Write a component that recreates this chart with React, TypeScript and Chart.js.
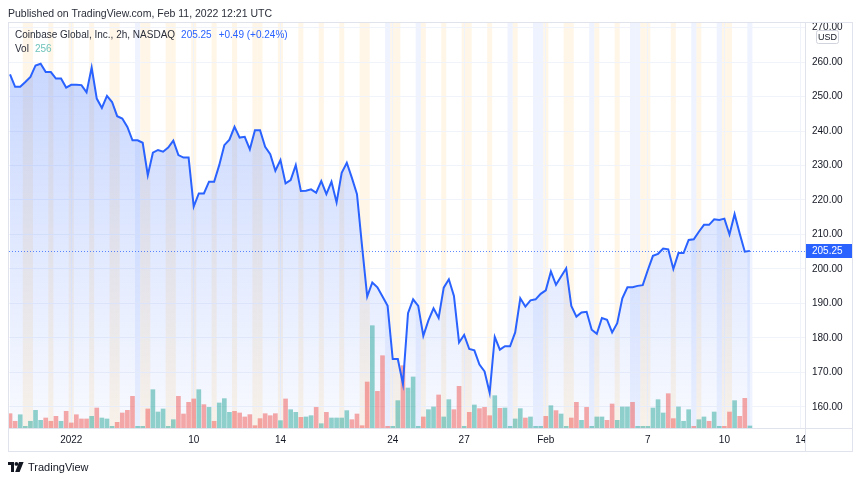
import React, { useEffect, useRef } from "react";
import { Chart, registerables } from "chart.js";

Chart.register(...registerables);

// ---- data ----
const closePrices: number[] = [
  256.4, 252.8, 252.8, 254.2, 255.7, 259.0, 259.5, 257.1, 257.1, 255.2, 255.2, 252.6, 253.4, 253.4, 253.3, 251.2, 258.4, 249.4, 246.7, 250.2, 248.4, 244.3, 243.6, 241.2,
  237.3, 237.3, 236.6, 227.2, 233.7, 234.5, 234.0, 235.2, 237.2, 233.0, 232.3, 232.3, 218.1, 221.9, 221.9, 225.3, 225.3, 230.1, 235.9, 237.5, 241.2, 238.1, 238.3, 234.7, 240.2,
  240.2, 235.4, 233.3, 228.5, 231.6, 224.8, 225.8, 230.1, 222.6, 222.7, 223.1, 222.1, 225.5, 221.7, 225.3, 219.3, 227.9, 230.8, 226.4, 221.7, 206.5, 192.0, 196.1, 194.7,
  192.0, 189.3, 173.9, 173.9, 166.7, 187.2, 191.2, 189.3, 180.6, 185.1, 188.6, 185.8, 194.6, 197.0, 192.2, 178.7, 180.9, 176.8, 176.4, 172.3, 170.3, 164.1, 180.3, 176.6, 177.6,
  177.6, 181.6, 191.5, 189.1, 190.9, 191.2, 192.8, 193.8, 199.3, 195.4, 197.8, 200.2, 189.3, 186.2, 187.4, 187.6, 182.4, 181.2, 185.8, 185.3, 181.6, 184.3, 191.5, 194.7,
  194.7, 195.1, 195.3, 199.7, 203.8, 204.4, 205.9, 205.7, 200.0, 204.6, 204.6, 208.4, 208.6, 210.8, 212.8, 212.8, 214.4, 214.2, 214.6, 210.0, 215.9, 210.3, 205.0, 205.25,
];

const volumesK: number[] = [
  1790, 840, 1660, 210, 840, 2210, 960, 1250, 840, 1460, 840, 2090, 630, 1660, 1130, 1130, 1460, 2500, 1250, 1130, 210, 710, 1880, 2210,
  3960, 210, 210, 2380, 4790, 2000, 2380, 210, 1040, 3960, 1750, 3210, 3630, 4790, 2920, 2580, 840, 3130, 3670, 1960, 2080, 1880, 1380, 1670,
  290, 1170, 1790, 1540, 1790, 920, 3630, 2290, 1960, 1330, 1380, 1540, 2580, 540, 1960, 1250, 1250, 1250, 2170, 1040, 1750, 290, 5750, 12790, 4580,
  9040, 210, 210, 3420, 7790, 5000, 6380, 210, 1380, 2290, 2630, 4130, 1380, 3540, 2290, 5210, 210, 1960, 2880, 2420, 2580, 1540, 4040, 2460, 2500,
  210, 1130, 2420, 1250, 1380, 210, 210, 1460, 2790, 2170, 1750, 210, 1250, 3210, 960, 2580, 210, 1380, 1380, 960, 3000, 960, 2630, 2630,
  3210, 210, 210, 210, 2500, 3540, 1880, 4290, 1170, 2630, 840, 2290, 210, 1040, 1380, 840, 2000, 210, 210, 2000, 3420, 1460, 3710, 256,
];

// 1 = up bar (teal), 0 = down bar (red)
const volumeUp: number[] = [
  0, 0, 1, 1, 1, 1, 1, 0, 0, 0, 1, 0, 0, 0, 0, 0, 1, 0, 1, 1, 1, 0, 0, 0,
  0, 1, 1, 0, 1, 1, 1, 1, 1, 0, 0, 0, 0, 1, 0, 1, 0, 1, 1, 1, 0, 0, 0, 0,
  0, 0, 0, 0, 0, 1, 0, 1, 1, 0, 1, 1, 0, 1, 0, 1, 1, 1, 1, 0, 0, 0, 0, 1, 0,
  0, 0, 1, 1, 0, 1, 1, 1, 0, 1, 1, 0, 1, 1, 0, 0, 1, 0, 1, 0, 0, 0, 1, 0, 1,
  1, 1, 1, 0, 1, 1, 1, 0, 1, 0, 1, 1, 0, 0, 1, 0, 1, 1, 1, 0, 0, 1, 1, 1,
  0, 1, 1, 1, 1, 1, 1, 0, 0, 1, 1, 1, 0, 1, 1, 0, 1, 1, 0, 0, 1, 0, 0, 1,
];

// extended-hours bars (session background)
const orangeSessionBars: number[] = [3, 4, 8, 12, 16, 20, 21, 26, 27, 31, 32, 36, 40, 44, 48, 49, 53, 57, 61, 65, 69, 70, 75, 76, 81, 85, 89, 90, 94, 99, 105, 109, 110, 115, 119, 124, 125, 130, 135, 140, 141];
const blueSessionBars: number[] = [25, 74, 80, 98, 103, 104, 114, 122, 123, 134, 139, 145];

const timeTickBars: number[] = [12, 36, 53, 75, 89, 105, 125, 140, 155];
const timeTickLabels: string[] = ["2022", "10", "14", "24", "27", "Feb", "7", "10", "14"];
const priceTicks: number[] = [160, 170, 180, 190, 200, 210, 220, 230, 240, 250, 260, 270];

const lastPrice = 205.25;
const publishedText = "Published on TradingView.com, Feb 11, 2022 12:21 UTC";
const symbolText = "Coinbase Global, Inc., 2h, NASDAQ";
const priceText = "205.25";
const changeText = "+0.49 (+0.24%)";
const volLabel = "Vol";
const volValue = "256";
const currencyText = "USD";
const brandText = "TradingView";

const FONT = "'Liberation Sans', Arial, sans-serif";
const BLUE = "#2962ff";
const FRAME = "#e0e3eb";

const tvPlugin = {
  id: "tvDecor",
  beforeDraw(chart: any) {
    const { ctx, chartArea: a, scales } = chart;
    const x = scales.x;
    ctx.save();
    const band = (i: number, color: string) => {
      const x0 = x.getPixelForValue(i - 0.5);
      const x1 = x.getPixelForValue(i + 0.5);
      ctx.fillStyle = color;
      ctx.fillRect(x0, a.top, x1 - x0, a.bottom - a.top);
    };
    orangeSessionBars.forEach((i) => band(i, "rgba(255,152,0,0.09)"));
    blueSessionBars.forEach((i) => band(i, "rgba(41,98,255,0.08)"));
    ctx.restore();
  },
  afterDatasetsDraw(chart: any) {
    const { ctx, chartArea: a, scales } = chart;
    const y = Math.round(scales.y.getPixelForValue(lastPrice)) + 0.5;
    ctx.save();
    ctx.strokeStyle = "rgba(41,98,255,0.75)";
    ctx.lineWidth = 1;
    ctx.setLineDash([1, 2]);
    ctx.beginPath();
    ctx.moveTo(a.left, y);
    ctx.lineTo(a.right, y);
    ctx.stroke();
    ctx.restore();
  },
  afterDraw(chart: any) {
    const { ctx, chartArea: a, scales } = chart;
    const W = chart.width;
    ctx.save();
    // mask overflow of axis labels
    ctx.fillStyle = "#ffffff";
    ctx.fillRect(a.right + 1, 0, W - a.right, a.top + 1);
    ctx.fillRect(a.right + 1, a.bottom + 1, 46, 22);
    // frame
    ctx.strokeStyle = FRAME;
    ctx.lineWidth = 1;
    ctx.strokeRect(8.5, a.top + 0.5, a.right + 47 - 8, a.bottom + 23 - a.top);
    ctx.beginPath();
    ctx.moveTo(a.right + 0.5, a.top);
    ctx.lineTo(a.right + 0.5, a.bottom + 23);
    ctx.moveTo(8, a.bottom + 0.5);
    ctx.lineTo(a.right + 47, a.bottom + 0.5);
    ctx.stroke();
    // currency box
    const bx = a.right + 11, by = a.top + 8, bw = 22, bh = 13;
    ctx.fillStyle = "#ffffff";
    ctx.strokeStyle = "#d1d4dc";
    ctx.beginPath();
    ctx.roundRect(bx + 0.5, by + 0.5, bw, bh, 2);
    ctx.fill();
    ctx.stroke();
    ctx.fillStyle = "#131722";
    ctx.font = `9px ${FONT}`;
    ctx.textAlign = "center";
    ctx.textBaseline = "middle";
    ctx.fillText(currencyText, bx + bw / 2 + 0.5, by + bh / 2 + 1);
    // last price label
    const py = scales.y.getPixelForValue(lastPrice);
    ctx.fillStyle = BLUE;
    ctx.fillRect(a.right + 1, Math.round(py) - 7, 46, 14);
    ctx.fillStyle = "#ffffff";
    ctx.font = `10px ${FONT}`;
    ctx.textAlign = "left";
    ctx.fillText(lastPrice.toFixed(2), a.right + 7, Math.round(py) + 0.5);
    ctx.restore();
  },
};

export default function App() {
  const canvasRef = useRef<HTMLCanvasElement | null>(null);

  useEffect(() => {
    if (!canvasRef.current) return;
    const lineData = closePrices.map((v, i) => ({ x: i, y: v }));
    const volData = volumesK.map((v, i) => ({ x: i, y: v }));
    const volColors = volumeUp.map((u) => (u ? "rgba(38,166,154,0.5)" : "rgba(239,83,80,0.5)"));

    const chart = new Chart(canvasRef.current, {
      type: "line",
      data: {
        datasets: [
          {
            type: "line",
            data: lineData,
            yAxisID: "y",
            xAxisID: "x",
            borderColor: BLUE,
            borderWidth: 2,
            pointRadius: 0,
            tension: 0,
            fill: "start",
            order: 0,
            backgroundColor: (c: any) => {
              const area = c.chart.chartArea;
              if (!area) return "rgba(41,98,255,0.15)";
              const g = c.chart.ctx.createLinearGradient(0, area.top, 0, area.bottom);
              g.addColorStop(0, "rgba(41,98,255,0.28)");
              g.addColorStop(1, "rgba(41,98,255,0.03)");
              return g;
            },
          } as any,
          {
            type: "bar",
            data: volData,
            yAxisID: "vol",
            xAxisID: "x",
            backgroundColor: volColors,
            barThickness: 4,
            borderWidth: 0,
            order: 1,
          } as any,
        ],
      },
      options: {
        responsive: false,
        animation: false,
        layout: { padding: { left: 9, right: 8, top: 22, bottom: 30 } },
        plugins: {
          legend: { display: false },
          tooltip: { enabled: false },
          filler: { drawTime: "beforeDatasetsDraw" },
        } as any,
        scales: {
          x: {
            type: "linear",
            min: -0.2,
            max: 155.8,
            offset: false,
            grid: { color: "#f0f3fa", drawTicks: false, offset: false },
            border: { display: false },
            ticks: {
              autoSkip: false,
              maxRotation: 0,
              padding: 6,
              color: "#131722",
              font: { size: 10, family: FONT },
              callback: (_v: any, i: number) => timeTickLabels[i] ?? "",
            },
            afterBuildTicks: (s: any) => {
              s.ticks = timeTickBars.map((v) => ({ value: v }));
            },
            afterFit: (s: any) => {
              s.height = 23;
            },
          } as any,
          y: {
            type: "linear",
            position: "right",
            min: 153.9,
            max: 271.6,
            grid: { color: "#f0f3fa", drawTicks: false },
            border: { display: false },
            ticks: {
              padding: 7,
              color: "#131722",
              font: { size: 10, family: FONT },
              callback: (v: any) => Number(v).toFixed(2),
            },
            afterBuildTicks: (s: any) => {
              s.ticks = priceTicks.map((v) => ({ value: v }));
            },
            afterFit: (s: any) => {
              s.width = 47;
            },
          } as any,
          vol: {
            type: "linear",
            display: false,
            min: 0,
            max: 50750,
          } as any,
        },
      },
      plugins: [tvPlugin],
    });
    return () => chart.destroy();
  }, []);

  const text: React.CSSProperties = {
    position: "absolute",
    fontFamily: FONT,
    fontSize: 10,
    color: "#131722",
    whiteSpace: "nowrap",
    lineHeight: "12px",
  };

  return (
    <div style={{ position: "absolute", left: 0, top: 0, width: 860, height: 481, background: "#ffffff", overflow: "hidden" }}>
      <canvas ref={canvasRef} width={860} height={481} style={{ display: "block", width: 860, height: 481 }} />
      <div style={{ ...text, left: 8, top: 7, fontSize: 10.5, color: "#2a2e39" }}>{publishedText}</div>
      <div style={{ ...text, left: 15, top: 29, color: "#2a2e39" }}>
        {symbolText}
        <span style={{ color: BLUE, marginLeft: 6 }}>{priceText}</span>
        <span style={{ color: BLUE, marginLeft: 7 }}>{changeText}</span>
      </div>
      <div style={{ ...text, left: 15, top: 43, color: "#2a2e39" }}>
        {volLabel}
        <span style={{ color: "#6fc3ba", marginLeft: 6 }}>{volValue}</span>
      </div>
      <div style={{ ...text, left: 8, top: 461, display: "flex", alignItems: "center", fontSize: 11 }}>
        <svg width="16" height="11" viewBox="0 0 16 11" style={{ marginRight: 4 }}>
          <path d="M0 0 H6 V10 H3 V3 H0 Z" fill="#131722" />
          <circle cx="8.4" cy="1.9" r="1.9" fill="#131722" />
          <path d="M11 0 H15.6 L11.6 10 H7.2 Z" fill="#131722" />
        </svg>
        <span>{brandText}</span>
      </div>
    </div>
  );
}
